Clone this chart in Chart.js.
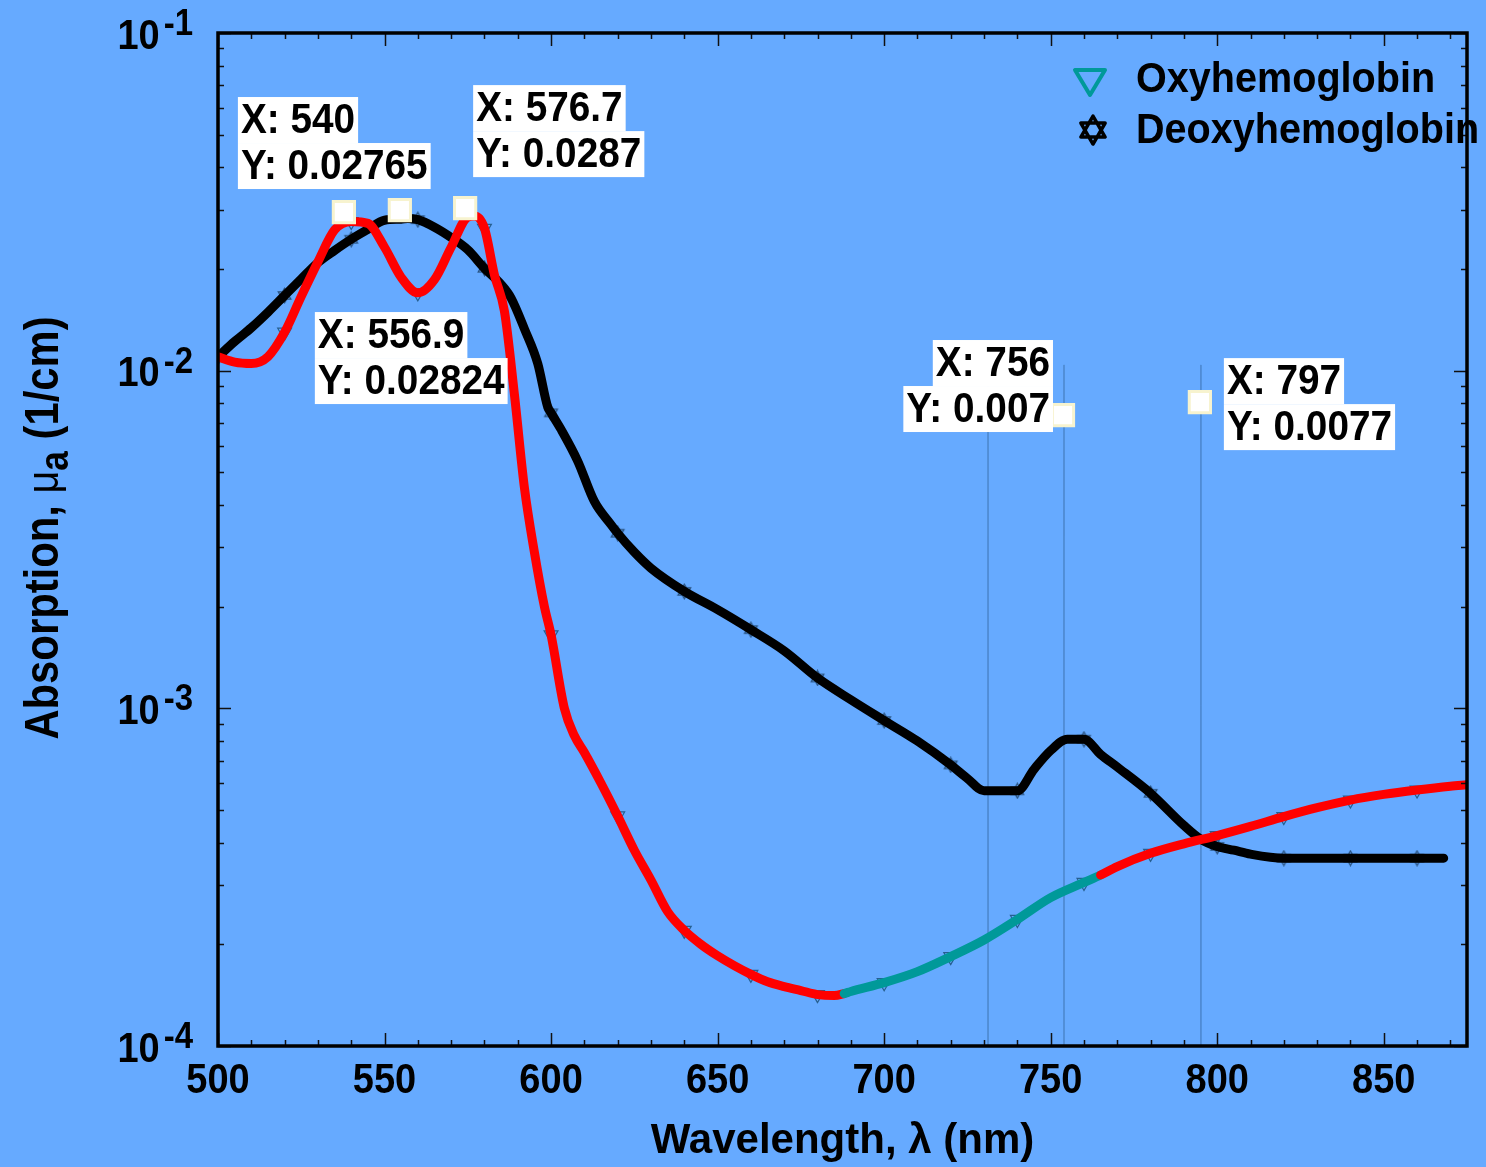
<!DOCTYPE html>
<html>
<head>
<meta charset="utf-8">
<script src="https://cdn.jsdelivr.net/npm/chart.js@4/dist/chart.umd.min.js"></script>
<style>
  html, body { margin: 0; padding: 0; background: #66aaff; }
  #wrap { width: 1486px; height: 1167px; }
</style>
</head>
<body>
<div id="wrap"><canvas id="chart" width="1486" height="1167"></canvas></div>
<script>
// values
const oxyWavelength = [500, 505, 510, 515, 520, 525, 530, 535, 540, 545, 550, 555, 560, 565, 570, 575, 577, 580,
  583, 586, 589, 592, 595, 598, 600, 604, 607, 610, 615, 620, 625, 630, 635, 640, 645, 650, 655, 660, 665, 670,
  675, 680, 685, 688, 690, 700, 710, 720, 730, 740, 750, 760, 765, 770, 780, 790, 800, 810, 820, 830, 840, 850,
  860, 870, 875];
const oxyAbsorption = [0.0110, 0.0106, 0.0105, 0.0110, 0.0130, 0.0166, 0.0210, 0.0261, 0.02765, 0.0273, 0.0232,
  0.0189, 0.0170, 0.0186, 0.0232, 0.0285, 0.0287, 0.0264, 0.0192, 0.0150, 0.0085, 0.0045, 0.0029, 0.0020, 0.00165,
  0.00100, 0.00083, 0.00074, 0.00060, 0.00048, 0.00038, 0.00031, 0.00025, 0.00022, 0.00020, 0.000185, 0.000173,
  0.000163, 0.000155, 0.000150, 0.000146, 0.000142, 0.000141, 0.000143, 0.000145, 0.000154, 0.000166, 0.000184,
  0.000206, 0.000237, 0.000275, 0.000305, 0.000321, 0.000340, 0.000372, 0.000397, 0.000420, 0.000447, 0.000478,
  0.000508, 0.000535, 0.000556, 0.000573, 0.000588, 0.000594];

const deoxyWavelength = [500, 505, 510, 515, 520, 525, 530, 535, 540, 545, 550, 555, 557, 560, 565, 570, 575, 580,
  585, 588, 592, 596, 599, 600, 603, 608, 613, 618, 620, 625, 630, 640, 650, 660, 670, 680, 690, 700, 710, 720,
  725, 730, 735, 740, 745, 750, 755, 760, 765, 770, 780, 790, 795, 800, 805, 810, 820, 840, 860, 868];
const deoxyAbsorption = [0.0110, 0.0122, 0.0134, 0.0149, 0.0167, 0.0187, 0.0209, 0.0227, 0.0245, 0.0262, 0.0279,
  0.0281, 0.02824, 0.0280, 0.0266, 0.0248, 0.0228, 0.0201, 0.0180, 0.0164, 0.0133, 0.0105, 0.0078, 0.0075, 0.0067,
  0.0054, 0.0041, 0.0035, 0.0033, 0.0029, 0.0026, 0.00222, 0.00196, 0.00171, 0.00148, 0.00123, 0.00106, 0.00092,
  0.00080, 0.00068, 0.00062, 0.00057, 0.00057, 0.00057, 0.00066, 0.00075, 0.00081, 0.00081, 0.00073, 0.00067,
  0.00056, 0.00045, 0.00041, 0.00039, 0.00038, 0.00037, 0.00036, 0.00036, 0.00036, 0.00036];

// data tips
const tipWavelength = [537.8, 554.6, 574.2, 753.7, 794.8];
const tipAbsorption = [0.0295, 0.0299, 0.0303, 0.00739, 0.00807];
const tipTextX = ["X: 540", "X: 556.9", "X: 576.7", "X: 756", "X: 797"];
const tipTextY = ["Y: 0.02765", "Y: 0.02824", "Y: 0.0287", "Y: 0.007", "Y: 0.0077"];

// thin leftover data-tip guide lines
const guideWavelength = [731.2, 754, 795.1];
const guideTop = 0.0104;

const xTickValues = [500, 550, 600, 650, 700, 750, 800, 850];
const yTickExponents = [-1, -2, -3, -4];
const seriesNames = ["Oxyhemoglobin", "Deoxyhemoglobin"];

const BG = "#66aaff";
const RED = "#ff0000";
const TEAL = "#009999";
const FONT = "'Liberation Sans', Arial, sans-serif";

// label box placement relative to each tip, in pixels
const tipLayout = [
  { dx: -106, dy: -115, align: "left" },
  { dx: -85, dy: 102, align: "left" },
  { dx: 8, dy: -123, align: "left" },
  { dx: -10, dy: -75, align: "right" },
  { dx: 24, dy: -44, align: "left" },
];

function hexagramPath(g, cx, cy, r) {
  g.beginPath();
  [-Math.PI / 2, Math.PI / 2].forEach((off) => {
    for (let k = 0; k < 3; k++) {
      const a = off + (k * 2 * Math.PI) / 3;
      const px = cx + r * Math.cos(a);
      const py = cy + r * Math.sin(a);
      if (k === 0) g.moveTo(px, py);
      else g.lineTo(px, py);
    }
    g.closePath();
  });
}

function hexagramCanvas(size, color, lw) {
  const c = document.createElement("canvas");
  c.width = size;
  c.height = size;
  const g = c.getContext("2d");
  g.strokeStyle = color;
  g.lineWidth = lw;
  hexagramPath(g, size / 2, size / 2, size / 2 - lw);
  g.stroke();
  return c;
}

function stretchText(ctx, text, x, y, sx, sy, align) {
  ctx.save();
  ctx.translate(x, y);
  ctx.scale(sx, sy);
  ctx.textAlign = align;
  ctx.textBaseline = "middle";
  ctx.fillText(text, 0, 0);
  ctx.restore();
}

const toPoints = (xs, ys) => xs.map((x, i) => ({ x: x, y: ys[i] }));
const every20 = (p) => p.x % 20 === 0 && p.x <= 860;

const oxyPoints = toPoints(oxyWavelength, oxyAbsorption);
const deoxyPoints = toPoints(deoxyWavelength, deoxyAbsorption);

const frame = {
  id: "frame",
  beforeDraw(chart) {
    const ctx = chart.ctx;
    ctx.save();
    ctx.fillStyle = BG;
    ctx.fillRect(0, 0, chart.width, chart.height);
    ctx.restore();
  },
  afterDatasetsDraw(chart) {
    const ctx = chart.ctx;
    const a = chart.chartArea;
    const xs = chart.scales.x;
    const ys = chart.scales.y;
    ctx.save();

    // tick marks, inward on all four sides
    ctx.strokeStyle = "#111";
    ctx.lineWidth = 1.5;
    ctx.beginPath();
    for (let v = 500; v <= 875; v += 10) {
      const px = Math.round(xs.getPixelForValue(v)) + 0.5;
      const len = v % 50 === 0 ? 13 : 6;
      ctx.moveTo(px, a.bottom);
      ctx.lineTo(px, a.bottom - len);
      ctx.moveTo(px, a.top);
      ctx.lineTo(px, a.top + len);
    }
    for (let e = -4; e <= -1; e++) {
      for (let m = 1; m <= 9; m++) {
        if (e === -1 && m > 1) break;
        const py = Math.round(ys.getPixelForValue(m * Math.pow(10, e))) + 0.5;
        const len = m === 1 ? 13 : 6;
        ctx.moveTo(a.left, py);
        ctx.lineTo(a.left + len, py);
        ctx.moveTo(a.right, py);
        ctx.lineTo(a.right - len, py);
      }
    }
    ctx.stroke();

    // box
    ctx.strokeStyle = "#000";
    ctx.lineWidth = 3.5;
    ctx.strokeRect(a.left, a.top, a.right - a.left, a.bottom - a.top);

    // x tick labels
    ctx.fillStyle = "#000";
    ctx.font = "bold 38px " + FONT;
    xTickValues.forEach((v) => {
      stretchText(ctx, String(v), xs.getPixelForValue(v), a.bottom + 35, 1, 1.1, "center");
    });

    // y tick labels 10^n
    yTickExponents.forEach((e) => {
      const py = ys.getPixelForValue(Math.pow(10, e));
      ctx.font = "bold 33px " + FONT;
      const sup = String(e);
      const supW = ctx.measureText(sup).width;
      stretchText(ctx, sup, 193, py - 8, 1, 1.1, "right");
      ctx.font = "bold 38px " + FONT;
      stretchText(ctx, "10", 193 - supW - 4, py + 4, 1, 1.1, "right");
    });

    // x title
    ctx.font = "bold 42px " + FONT;
    stretchText(ctx, "Wavelength, \u03bb (nm)", (a.left + a.right) / 2, 1141, 1, 1.0, "center");

    // y title with subscript
    ctx.save();
    ctx.translate(58, 528);
    ctx.rotate(-Math.PI / 2);
    ctx.scale(1.1, 1.25);
    ctx.textBaseline = "alphabetic";
    ctx.textAlign = "left";
    const parts = [
      { t: "Absorption, ", f: "bold 38px " + FONT, dy: 0 },
      { t: "\u03bc", f: "36px " + FONT, dy: 0 },
      { t: "a", f: "bold 32px " + FONT, dy: 8 },
      { t: " (1/cm)", f: "bold 38px " + FONT, dy: 0 },
    ];
    let total = 0;
    parts.forEach((p) => {
      ctx.font = p.f;
      p.w = ctx.measureText(p.t).width;
      total += p.w;
    });
    let cx = -total / 2;
    parts.forEach((p) => {
      ctx.font = p.f;
      ctx.fillText(p.t, cx, p.dy);
      cx += p.w;
    });
    ctx.restore();

    // legend
    ctx.lineJoin = "round";
    ctx.strokeStyle = TEAL;
    ctx.lineWidth = 4;
    ctx.beginPath();
    ctx.moveTo(1075, 70);
    ctx.lineTo(1105, 70);
    ctx.lineTo(1090, 95);
    ctx.closePath();
    ctx.stroke();
    ctx.strokeStyle = "#000";
    ctx.lineWidth = 3.5;
    hexagramPath(ctx, 1093, 130, 14);
    ctx.stroke();
    ctx.fillStyle = "#000";
    ctx.font = "bold 39px " + FONT;
    stretchText(ctx, seriesNames[0], 1136, 80, 1.015, 1.08, "left");
    stretchText(ctx, seriesNames[1], 1136, 131, 1.015, 1.08, "left");

    // data tip labels
    ctx.font = "bold 38px " + FONT;
    tipWavelength.forEach((w, i) => {
      const px = xs.getPixelForValue(w);
      const py = ys.getPixelForValue(tipAbsorption[i]);
      const L = tipLayout[i];
      [tipTextX[i], tipTextY[i]].forEach((txt, j) => {
        const tw = ctx.measureText(txt).width * 1.02;
        const bw = tw + 6;
        const left = L.align === "left" ? px + L.dx : px + L.dx - bw;
        const top = py + L.dy + j * 46;
        ctx.fillStyle = "#ffffff";
        ctx.fillRect(left, top, bw, 46);
        ctx.fillStyle = "#000";
        stretchText(ctx, txt, left + 3, top + 24, 1.02, 1.1, "left");
      });
    });

    ctx.restore();
  },
};

const ctx = document.getElementById("chart").getContext("2d");
new Chart(ctx, {
  type: "line",
  data: {
    datasets: [
      {
        label: "tips",
        data: toPoints(tipWavelength, tipAbsorption),
        showLine: false,
        pointStyle: "rect",
        pointRadius: 15,
        backgroundColor: "#ffffff",
        borderColor: "#f7f3cf",
        borderWidth: 3,
        order: 0,
      },
      {
        label: seriesNames[0],
        data: oxyPoints,
        borderWidth: 9,
        borderColor: RED,
        pointRadius: 0,
        cubicInterpolationMode: "monotone",
        borderCapStyle: "round",
        borderJoinStyle: "round",
        segment: {
          borderColor: (c) => {
            const x0 = c.p0.parsed.x;
            return x0 >= 688 && x0 < 765 ? TEAL : RED;
          },
        },
        order: 1,
      },
      {
        label: seriesNames[1],
        data: deoxyPoints,
        borderWidth: 9,
        borderColor: "#000000",
        pointRadius: 0,
        cubicInterpolationMode: "monotone",
        borderCapStyle: "round",
        borderJoinStyle: "round",
        order: 2,
      },
      ...guideWavelength.map((g) => ({
        label: "guide",
        data: [{ x: g, y: guideTop }, { x: g, y: 1e-4 }],
        borderColor: "#4f8bd2",
        borderWidth: 1,
        pointRadius: 0,
        order: 3,
      })),
      {
        label: "oxy markers",
        data: oxyPoints.filter(every20),
        showLine: false,
        pointStyle: "triangle",
        rotation: 180,
        pointRadius: 8,
        borderColor: "#265f8f",
        backgroundColor: "rgba(0,0,0,0)",
        borderWidth: 1.2,
        order: 4,
      },
      {
        label: "deoxy markers",
        data: deoxyPoints.filter(every20),
        showLine: false,
        pointStyle: hexagramCanvas(17, "#264e7a", 1.2),
        order: 4,
      },
    ],
  },
  options: {
    responsive: false,
    devicePixelRatio: 1,
    animation: false,
    layout: { padding: { top: 33, right: 19, left: 0, bottom: 0 } },
    plugins: { legend: { display: false }, tooltip: { enabled: false } },
    scales: {
      x: {
        type: "linear",
        min: 500,
        max: 875,
        grid: { display: false },
        border: { display: false },
        ticks: { display: false },
        afterFit: (s) => { s.height = 121; },
      },
      y: {
        type: "logarithmic",
        min: 1e-4,
        max: 1e-1,
        grid: { display: false },
        border: { display: false },
        ticks: { display: false },
        afterFit: (s) => { s.width = 218; },
      },
    },
  },
  plugins: [frame],
});
</script>
</body>
</html>
